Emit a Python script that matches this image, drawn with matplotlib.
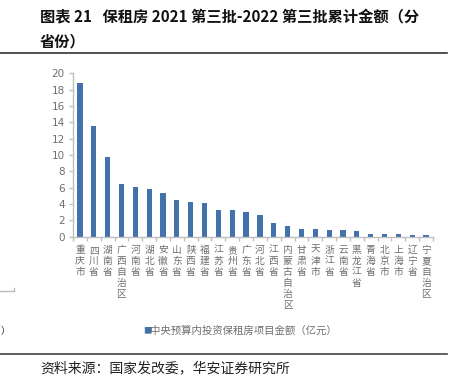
import matplotlib
matplotlib.use("Agg")
import matplotlib.pyplot as plt
from matplotlib.lines import Line2D
import numpy as np

plt.rcParams['font.family'] = ['Noto Sans CJK SC', 'DejaVu Sans']

provinces = ["重庆市", "四川省", "湖南省", "广西自治区", "河南省", "湖北省", "安徽省",
             "山东省", "陕西省", "福建省", "江苏省", "贵州省", "广东省", "河北省",
             "江西省", "内蒙古自治区", "甘肃省", "天津市", "浙江省", "云南省",
             "黑龙江省", "青海省", "北京市", "上海市", "辽宁省", "宁夏自治区"]
amounts = [18.8, 13.5, 9.8, 6.4, 6.1, 5.8, 5.4, 4.5, 4.2, 4.1, 3.3, 3.3, 3.0, 2.6,
           1.7, 1.3, 1.0, 0.9, 0.85, 0.85, 0.65, 0.35, 0.35, 0.35, 0.25, 0.2]
yticks = list(range(0, 21, 2))

bar_color = "#4371A9"
grey = "#6E6E6E"
axis_grey = "#BFBFBF"

fig = plt.figure(figsize=(4.65, 3.77), dpi=100)
ax = fig.add_axes([73 / 465, 1 - 236.7 / 377, 360 / 465, 163.4 / 377])

x = np.arange(len(provinces))
ax.bar(x, amounts, width=0.38, color=bar_color, zorder=2)
ax.set_xlim(-0.5, len(provinces) - 0.5)
ax.set_ylim(0, 20)
ax.set_yticks(yticks)
ax.set_yticklabels([str(t) for t in yticks], color=grey, fontsize=7.5,
                   family=['DejaVu Sans'])

# tick marks between bars, labels stacked vertically
ax.set_xticks(np.arange(len(provinces) + 1) - 0.5)
ax.set_xticklabels([])
ax.tick_params(axis='x', length=3, color=axis_grey, width=1)
ax.tick_params(axis='y', length=3, color=axis_grey, width=1, pad=3)
for i, name in enumerate(provinces):
    ax.text(i, -0.05, "\n".join(name), transform=ax.get_xaxis_transform(),
            ha='center', va='top', fontsize=7, color=grey, linespacing=1.12)

for side in ['top', 'right']:
    ax.spines[side].set_visible(False)
for side in ['left', 'bottom']:
    ax.spines[side].set_color(axis_grey)
    ax.spines[side].set_linewidth(1)

# title
fig.text(40 / 465, 1 - 17 / 377, "图表 21   保租房 2021 第三批-2022 第三批累计金额（分",
         fontsize=11, fontweight='bold', color="#111111", va='center', ha='left')
fig.text(40 / 465, 1 - 41 / 377, "省份）", fontsize=11, fontweight='bold',
         color="#111111", va='center', ha='left')
fig.add_artist(Line2D([0, 447 / 465], [1 - 53 / 377] * 2, color="#333333", lw=1.2))

# legend
fig.text(143 / 465, 1 - 331 / 377, "■", color=bar_color, fontsize=6,
         va='center', ha='left')
fig.text(150 / 465, 1 - 331 / 377, "中央预算内投资保租房项目金额（亿元）",
         color=grey, fontsize=7.5, va='center', ha='left')

# stray marks from the source page
fig.add_artist(Line2D([0, 14 / 465, 14 / 465], [1 - 291 / 377, 1 - 291 / 377, 1 - 288 / 377],
                      color="#BBBBBB", lw=1))
fig.text(1 / 465, 1 - 331 / 377, "）", color="#333333", fontsize=7, va='center', ha='left')

# source
fig.add_artist(Line2D([0, 447 / 465], [1 - 354 / 377] * 2, color="#444444", lw=1.2))
fig.text(40 / 465, 1 - 368 / 377, "资料来源：国家发改委，华安证券研究所",
         fontsize=10, color="#222222", va='center', ha='left')

fig.savefig("out.png", dpi=100)
